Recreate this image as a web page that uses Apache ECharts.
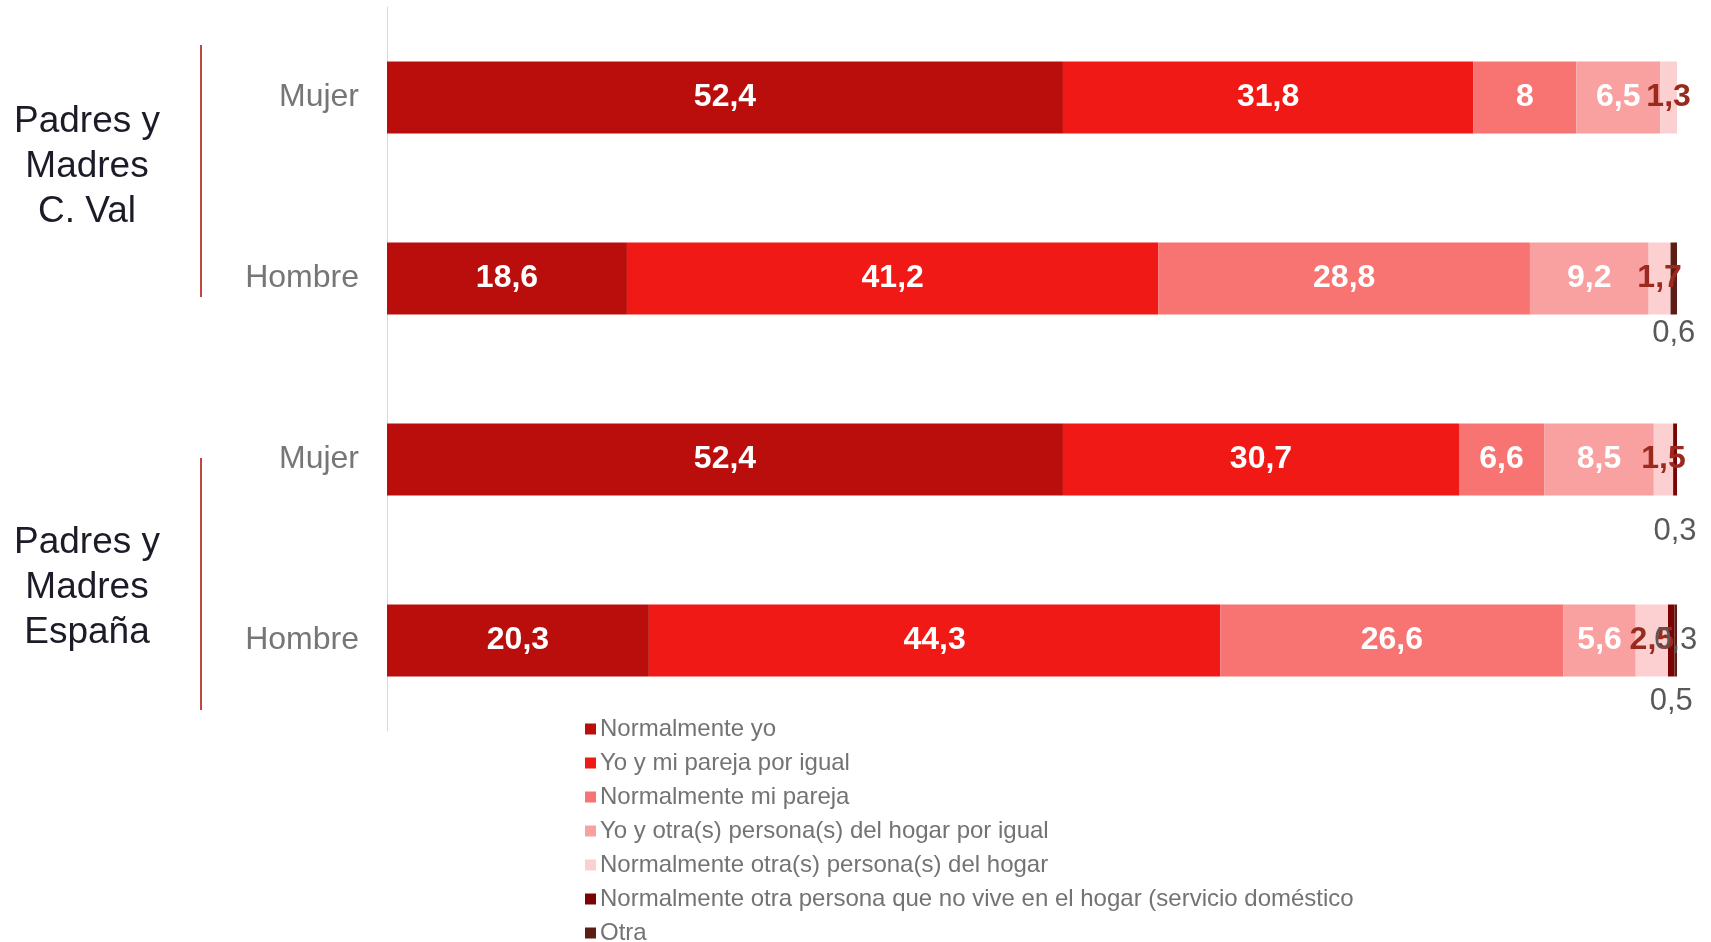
<!DOCTYPE html>
<html>
<head>
<meta charset="utf-8">
<script src="https://cdn.jsdelivr.net/npm/echarts@6/dist/echarts.min.js"></script>
<style>
html,body{margin:0;padding:0;background:#fff;}
#main{width:1711px;height:942px;}
</style>
</head>
<body>
<div id="main"></div>
<script>
// ---- data ----
const categories = ['Mujer', 'Hombre', 'Mujer', 'Hombre'];
const groups = ['Padres y\nMadres\nC. Val', 'Padres y\nMadres\nEspaña'];
const seriesNames = [
  'Normalmente yo',
  'Yo y mi pareja por igual',
  'Normalmente mi pareja',
  'Yo y otra(s) persona(s) del hogar por igual',
  'Normalmente otra(s) persona(s) del hogar',
  'Normalmente otra persona que no vive en el hogar (servicio doméstico',
  'Otra'
];
const normalmenteYo = [52.4, 18.6, 52.4, 20.3];
const yoYMiPareja = [31.8, 41.2, 30.7, 44.3];
const normalmenteMiPareja = [8, 28.8, 6.6, 26.6];
const yoYOtras = [6.5, 9.2, 8.5, 5.6];
const normalmenteOtras = [1.3, 1.7, 1.5, 2.5];
const servicioDomestico = [0, 0, 0.3, 0.5];
const otra = [0, 0.6, 0, 0.3];

const values = [normalmenteYo, yoYMiPareja, normalmenteMiPareja, yoYOtras, normalmenteOtras, servicioDomestico, otra];
const colors = ['#B90E0C', '#F01915', '#F87473', '#F9A0A0', '#FCD0D0', '#7A0404', '#5C1D14'];

const fmt = v => String(v).replace('.', ',');
const FONT = "'Liberation Sans', Arial, sans-serif";

// label styling for the small dark segments (series 5, 6), per category index
const smallLabelStyle = {
  5: { 2: { position: 'bottom', distance: 20 }, 3: { position: 'bottom', distance: 9 } },
  6: { 1: { position: 'bottom', distance: 3 }, 3: { position: 'inside', offset: [0, 3] } }
};

const series = values.map((arr, si) => {
  const data = arr.map((v, ci) => {
    const item = { value: v };
    if (!v) { item.label = { show: false }; return item; }
    if (si >= 5) {
      const s = (smallLabelStyle[si] || {})[ci] || { position: 'bottom' };
      item.label = Object.assign({ show: true, color: '#595959', fontWeight: 'normal' }, s);
    }
    return item;
  });
  let label;
  if (si <= 3) label = { show: true, position: 'inside', offset: [0, 4], color: '#fff', fontWeight: 'bold', fontSize: 32, fontFamily: FONT, formatter: p => fmt(p.value) };
  else if (si === 4) label = { show: true, position: 'inside', offset: [0, 4], color: '#9B2A1E', fontWeight: 'bold', fontSize: 32, fontFamily: FONT, formatter: p => fmt(p.value) };
  else label = { show: true, color: '#595959', fontSize: 31, fontFamily: FONT, formatter: p => fmt(p.value) };
  return {
    name: seriesNames[si],
    type: 'bar',
    stack: 'total',
    barWidth: 72,
    itemStyle: { color: colors[si] },
    label: label,
    labelLayout: { hideOverlap: false },
    emphasis: { disabled: true },
    data: data
  };
});

const chart = echarts.init(document.getElementById('main'), null, { renderer: 'canvas' });
chart.setOption({
  animation: false,
  backgroundColor: '#ffffff',
  color: colors,
  grid: { left: 387, top: 7, width: 1290, height: 724, containLabel: false },
  xAxis: { type: 'value', min: 0, max: 100, show: false },
  yAxis: {
    type: 'category',
    data: categories,
    inverse: true,
    axisLine: { show: true, lineStyle: { color: '#D9D9D9', width: 1 } },
    axisTick: { show: false },
    axisLabel: { color: '#767676', fontSize: 32, fontFamily: FONT, margin: 28, padding: [8, 0, 0, 0] }
  },
  legend: {
    orient: 'vertical',
    left: 580,
    top: 711,
    height: 260,
    icon: 'rect',
    itemWidth: 11,
    itemHeight: 11,
    itemGap: 8,
    textStyle: { color: '#737373', fontSize: 24, fontFamily: FONT, lineHeight: 26, padding: [0, 0, 0, -1] },
    data: seriesNames
  },
  series: series,
  graphic: [
    { type: 'line', shape: { x1: 201, y1: 45, x2: 201, y2: 297 }, style: { stroke: '#BC4A42', lineWidth: 2 } },
    { type: 'line', shape: { x1: 201, y1: 458, x2: 201, y2: 710 }, style: { stroke: '#BC4A42', lineWidth: 2 } },
    { type: 'text', x: 87, y: 167, style: { text: groups[0], fill: '#1C1C28', font: '37px ' + FONT, align: 'center', verticalAlign: 'middle', lineHeight: 45 } },
    { type: 'text', x: 87, y: 588, style: { text: groups[1], fill: '#1C1C28', font: '37px ' + FONT, align: 'center', verticalAlign: 'middle', lineHeight: 45 } }
  ]
});
</script>
</body>
</html>
